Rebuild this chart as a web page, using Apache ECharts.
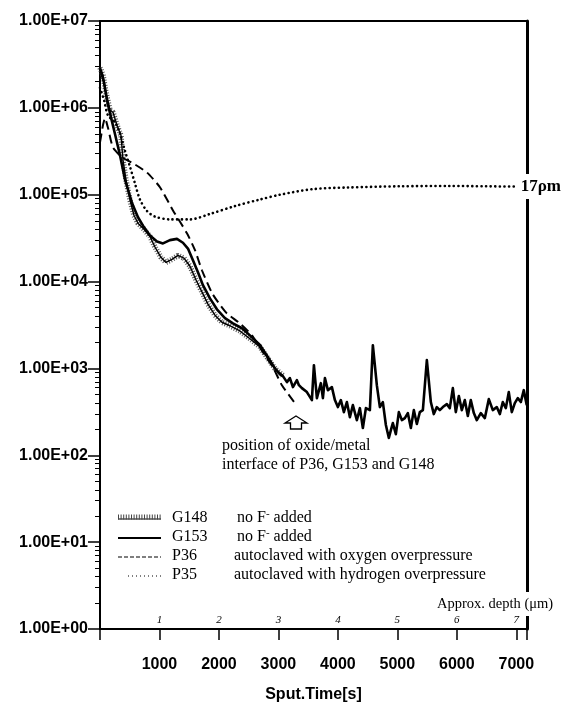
<!DOCTYPE html>
<html>
<head>
<meta charset="utf-8">
<script src="https://cdn.jsdelivr.net/npm/echarts@6/dist/echarts.min.js"></script>
<style>
  html, body { margin: 0; padding: 0; background: #ffffff; }
  #chart { width: 568px; height: 705px; }
</style>
</head>
<body>
<div id="chart"></div>
<script>
// SIMS depth profiles: intensity versus sputter time [s]

// G148, no F- added
const g148 = [
  [0, 2.9e6], [50, 2.4e6], [101, 1.5e6], [168, 9.4e5], [218, 8.9e5], [286, 6.3e5],
  [353, 4.8e5], [387, 2.5e5], [437, 1.48e5], [504, 8.7e4], [571, 5.8e4], [639, 4.7e4],
  [740, 4.0e4], [840, 3.3e4], [924, 2.5e4], [1025, 1.9e4], [1109, 1.66e4], [1210, 1.8e4],
  [1311, 2.0e4], [1412, 1.86e4], [1513, 1.5e4], [1613, 1.05e4], [1714, 7.6e3], [1815, 5.5e3],
  [1933, 4.1e3], [2050, 3.4e3], [2185, 3.1e3], [2353, 2.7e3], [2521, 2.2e3], [2689, 1.77e3],
  [2824, 1.3e3], [2941, 1.0e3], [3076, 830]
];

// G153, no F- added
const g153 = [
  [0, 2.86e6], [67, 1.96e6], [118, 1.22e6], [168, 8.7e5], [252, 5.0e5], [336, 2.85e5],
  [420, 1.5e5], [538, 8.0e4], [639, 5.5e4], [723, 4.4e4], [840, 3.4e4], [958, 2.9e4],
  [1059, 2.75e4], [1176, 3.0e4], [1294, 3.1e4], [1395, 2.8e4], [1479, 2.4e4], [1563, 1.76e4],
  [1647, 1.28e4], [1731, 9.1e3], [1849, 6.4e3], [1966, 4.8e3], [2101, 3.8e3], [2235, 3.3e3],
  [2387, 2.9e3], [2521, 2.4e3], [2689, 1.86e3], [2824, 1.35e3], [2941, 1.0e3],
  [3025, 860], [3076, 815], [3143, 696], [3193, 773], [3244, 609], [3311, 733], [3345, 642],
  [3395, 593], [3479, 534], [3563, 432], [3597, 1090], [3647, 455], [3714, 677], [3748, 455],
  [3782, 773], [3832, 562], [3899, 609], [3950, 432], [4000, 359], [4050, 432], [4101, 314],
  [4151, 410], [4202, 275], [4252, 378], [4319, 254], [4370, 349], [4420, 206], [4471, 349],
  [4538, 331], [4588, 1850], [4655, 642], [4706, 359], [4756, 410], [4807, 223], [4857, 158],
  [4891, 195], [4924, 235], [4975, 175], [5025, 314], [5076, 254], [5126, 268], [5176, 306],
  [5227, 206], [5277, 331], [5328, 229], [5378, 314], [5429, 331], [5496, 1250], [5563, 410],
  [5613, 298], [5664, 359], [5714, 331], [5765, 359], [5832, 388], [5882, 349], [5933, 593],
  [5983, 314], [6034, 480], [6084, 331], [6134, 432], [6185, 283], [6235, 432], [6286, 306],
  [6336, 254], [6403, 306], [6471, 268], [6538, 443], [6605, 331], [6672, 359], [6723, 298],
  [6773, 410], [6824, 349], [6874, 534], [6924, 314], [6975, 399], [7025, 455], [7076, 410],
  [7126, 562], [7176, 378]
];

// P36, autoclaved with oxygen overpressure
const p36 = [
  [0, 4.0e5], [50, 6.3e5], [84, 7.6e5], [134, 5.9e5], [218, 3.5e5], [370, 2.7e5],
  [555, 2.3e5], [790, 1.8e5], [1008, 1.22e5], [1227, 6.6e4], [1462, 3.6e4], [1597, 2.3e4],
  [1714, 1.35e4], [1882, 7.4e3], [2017, 5.4e3], [2134, 4.3e3], [2353, 3.3e3], [2555, 2.4e3],
  [2723, 1.6e3], [2908, 1.03e3], [3059, 640], [3277, 400]
];

// P35, autoclaved with hydrogen overpressure
const p35 = [
  [0, 1.7e6], [67, 1.23e6], [134, 8.2e5], [252, 6.8e5], [336, 5.1e5], [420, 3.2e5],
  [504, 2.1e5], [588, 1.35e5], [672, 8.8e4], [790, 6.5e4], [924, 5.6e4], [1176, 5.2e4],
  [1513, 5.2e4], [1849, 6.0e4], [2269, 7.4e4], [2689, 8.8e4], [3025, 1.0e5], [3580, 1.16e5],
  [4150, 1.21e5], [5042, 1.25e5], [5882, 1.26e5], [6500, 1.25e5], [7008, 1.24e5]
];

const timeTicks = [1000, 2000, 3000, 4000, 5000, 6000, 7000];
const depthTicks = ['1', '2', '3', '4', '5', '6', '7'];
const intensityTicks = ['1.00E+00', '1.00E+01', '1.00E+02', '1.00E+03', '1.00E+04', '1.00E+05', '1.00E+06', '1.00E+07'];

const legendRows = [
  { code: 'G148', note: 'no F', sup: '-', rest: ' added' },
  { code: 'G153', note: 'no F', sup: '-', rest: ' added' },
  { code: 'P36', note: 'autoclaved with oxygen overpressure', sup: '', rest: '' },
  { code: 'P35', note: 'autoclaved with hydrogen overpressure', sup: '', rest: '' }
];

const SANS = '"Liberation Sans", Arial, sans-serif';
const SERIF = '"Liberation Serif", "Times New Roman", serif';
const TMAX = 7180;

const chart = echarts.init(document.getElementById('chart'), null, { renderer: 'canvas' });

const tickIndex = v => timeTicks.indexOf(Math.round(v));

// legend drawn inside the plot area
const legendGraphics = [];
const rowY = [519, 538, 557, 576];
const sampleStyles = [
  [{ lineDash: null, lineWidth: 1.2 }, { lineDash: [1, 1.6], lineWidth: 5, stroke: '#444' }],
  [{ lineDash: null, lineWidth: 1.8 }],
  [{ lineDash: [4, 2], lineWidth: 1.2 }],
  [{ lineDash: [1, 3], lineWidth: 1.2 }]
];
legendRows.forEach((row, i) => {
  const y = rowY[i];
  const x0 = i === 3 ? 128 : 118;
  sampleStyles[i].forEach((st, k) => {
    legendGraphics.push({
      type: 'line',
      shape: { x1: x0, y1: k === 1 ? y - 2 : y, x2: 161, y2: k === 1 ? y - 2 : y },
      style: { stroke: st.stroke || '#000', lineWidth: st.lineWidth, lineDash: st.lineDash },
      z: 50
    });
  });
  legendGraphics.push({
    type: 'text', x: 172, y: y - 1, z: 50,
    style: { text: row.code, font: '16px ' + SERIF, fill: '#000', verticalAlign: 'middle' }
  });
  legendGraphics.push({
    type: 'text', x: i < 2 ? 237 : 234, y: y - 1, z: 50,
    style: {
      text: row.sup ? '{t|' + row.note + '}{s|' + row.sup + '}{t|' + row.rest + '}' : '{t|' + row.note + '}',
      verticalAlign: 'middle',
      rich: {
        t: { font: '16px ' + SERIF, fill: '#000', lineHeight: 18 },
        s: { font: '11px ' + SERIF, fill: '#000', verticalAlign: 'top', lineHeight: 18, padding: [0, 0, 6, 0] }
      }
    }
  });
});

const gridBox = { left: 100, right: 41, top: 21, bottom: 76, containLabel: false, outerBoundsMode: 'none' };

const option = {
  animation: false,
  backgroundColor: '#ffffff',
  grid: [Object.assign({}, gridBox), Object.assign({}, gridBox)],
  xAxis: [
    {
      type: 'value', gridIndex: 0, position: 'bottom',
      min: 0, max: TMAX, interval: 1000,
      axisLine: { onZero: false, lineStyle: { color: '#000', width: 2 } },
      axisTick: { length: 11, lineStyle: { color: '#000', width: 1.5 } },
      splitLine: { show: false },
      axisLabel: {
        margin: 28, color: '#000', fontFamily: SANS, fontWeight: 'bold', fontSize: 16,
        formatter: v => (tickIndex(v) >= 0 ? String(timeTicks[tickIndex(v)]) : '')
      },
      name: 'Sput.Time[s]', nameLocation: 'middle', nameGap: 58,
      nameTextStyle: { color: '#000', fontFamily: SANS, fontWeight: 'bold', fontSize: 16 }
    },
    {
      type: 'value', gridIndex: 0, position: 'top', min: 0, max: 1,
      axisLine: { onZero: false, lineStyle: { color: '#000', width: 2 } },
      axisTick: { show: false }, axisLabel: { show: false }, splitLine: { show: false }
    },
    {
      type: 'value', gridIndex: 1, position: 'bottom',
      min: 0, max: TMAX, interval: 1000,
      axisLine: { show: false, onZero: false }, axisTick: { show: false }, splitLine: { show: false },
      axisLabel: {
        inside: true, margin: 3, color: '#000', fontFamily: SERIF, fontStyle: 'italic', fontSize: 11,
        formatter: v => (tickIndex(v) >= 0 ? depthTicks[tickIndex(v)] : '')
      }
    }
  ],
  yAxis: [
    {
      type: 'log', logBase: 10, gridIndex: 0, min: 1, max: 1e7, splitNumber: 7,
      axisLine: { onZero: false, lineStyle: { color: '#000', width: 2 } },
      axisTick: { length: 12, lineStyle: { color: '#000', width: 1.5 } },
      minorTick: { show: true, splitNumber: 9, length: 5, lineStyle: { color: '#000', width: 1 } },
      splitLine: { show: false },
      minorSplitLine: { show: false },
      axisLabel: {
        margin: 12, color: '#000', fontFamily: SANS, fontWeight: 'bold', fontSize: 16,
        padding: [0, 0, 5, 0],
        formatter: v => intensityTicks[Math.round(Math.log10(v))] || ''
      }
    },
    {
      type: 'value', gridIndex: 0, position: 'right', min: 0, max: 1,
      axisLine: { onZero: false, lineStyle: { color: '#000', width: 3 } },
      axisTick: { show: false }, axisLabel: { show: false }, splitLine: { show: false }
    },
    { type: 'value', gridIndex: 1, show: false, min: 0, max: 1 }
  ],
  series: [
    {
      name: 'P35', type: 'line', xAxisIndex: 0, yAxisIndex: 0, data: p35,
      showSymbol: false, smooth: 0.3, z: 3,
      lineStyle: { color: '#000', width: 2.6, type: [0.1, 4.5], cap: 'round' },
      endLabel: {
        show: true, formatter: '17ρm', distance: 3, color: '#000',
        fontFamily: SERIF, fontWeight: 'bold', fontSize: 17,
        backgroundColor: '#fff', padding: [4, 1, 4, 1]
      }
    },
    {
      name: 'P36', type: 'line', xAxisIndex: 0, yAxisIndex: 0, data: p36,
      showSymbol: false, smooth: 0.2, z: 3,
      lineStyle: { color: '#000', width: 2, type: [9, 5] }
    },
    {
      name: 'G148 hatch', type: 'line', xAxisIndex: 0, yAxisIndex: 0, data: g148,
      showSymbol: false, z: 2,
      lineStyle: { color: '#555', width: 5.5, type: [1, 1.6] }
    },
    {
      name: 'G148', type: 'line', xAxisIndex: 0, yAxisIndex: 0, data: g148,
      showSymbol: false, z: 3,
      lineStyle: { color: '#000', width: 1.4 }
    },
    {
      name: 'G153', type: 'line', xAxisIndex: 0, yAxisIndex: 0, data: g153,
      showSymbol: false, z: 4,
      lineStyle: { color: '#000', width: 2.6, join: 'round' }
    }
  ],
  graphic: legendGraphics.concat([
    {
      type: 'polygon', z: 50,
      shape: { points: [[296, 416], [307, 423], [301.5, 423], [301.5, 429], [290.5, 429], [290.5, 423], [285, 423]] },
      style: { fill: '#fff', stroke: '#000', lineWidth: 1.3 }
    },
    {
      type: 'text', x: 222, y: 446, z: 50,
      style: { text: 'position of oxide/metal', font: '16px ' + SERIF, fill: '#000', verticalAlign: 'middle' }
    },
    {
      type: 'text', x: 222, y: 465, z: 50,
      style: { text: 'interface of P36, G153 and G148', font: '16px ' + SERIF, fill: '#000', verticalAlign: 'middle' }
    },
    {
      type: 'text', x: 436, y: 604, z: 100,
      style: {
        text: 'Approx. depth (μm)', font: '14.5px ' + SERIF, fill: '#000', verticalAlign: 'middle',
        backgroundColor: '#fff', padding: [6, 1, 3, 1]
      }
    }
  ])
};

chart.setOption(option);
</script>
</body>
</html>
